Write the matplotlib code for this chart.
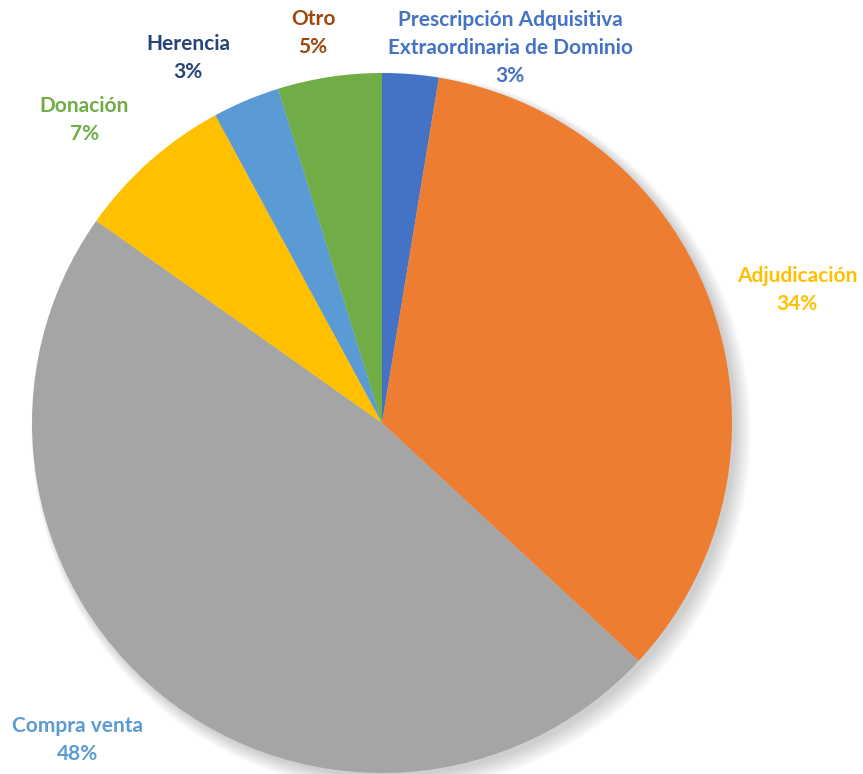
import matplotlib
matplotlib.use('Agg')
from matplotlib import pyplot as plt
from matplotlib.patches import Circle

# datos (porcentajes, en sentido horario desde arriba)
categorias = ['Prescripción Adquisitiva\nExtraordinaria de Dominio', 'Adjudicación',
              'Compra venta', 'Donación', 'Herencia', 'Otro']
valores = [2.6, 34.3, 47.9, 7.3, 3.1, 4.8]
etiquetas_pct = ['3%', '34%', '48%', '7%', '3%', '5%']

colores = ['#4472C4', '#ED7D31', '#A5A5A5', '#FFC000', '#5B9BD5', '#70AD47']
colores_texto = ['#4472C4', '#FFC000', '#5B9BD5', '#70AD47', '#264478', '#9E480E']
# posicion de cada etiqueta (radio del pie = 1)
pos_etiquetas = [(0.366, 1.071), (1.186, 0.380), (-0.869, -0.906),
                 (-0.851, 0.866), (-0.554, 1.043), (-0.197, 1.114)]

fig = plt.figure(figsize=(8.63, 7.74), dpi=100)
ax = fig.add_axes([0, 0, 1, 1])

# sombra suave abajo a la derecha
for i in range(8):
    ax.add_patch(Circle((0.012 + i * 0.002, -0.012 - i * 0.002), 1.0 + i * 0.004,
                        color='black', alpha=0.025, lw=0, zorder=0))

ax.pie(valores, colors=colores, startangle=90, counterclock=False,
       wedgeprops=dict(linewidth=0), radius=1.0)

for cat, pct, col, (x, y) in zip(categorias, etiquetas_pct, colores_texto, pos_etiquetas):
    ax.text(x, y, cat + '\n' + pct, color=col, ha='center', va='center',
            fontsize=15, fontweight='bold', family=['Lato', 'DejaVu Sans'],
            linespacing=1.5)

ax.set_xlim(-382 / 350, (863 - 382) / 350)
ax.set_ylim(-(774 - 423) / 350, 423 / 350)
ax.set_aspect('auto')
ax.axis('off')

plt.savefig('out.png', dpi=100)
